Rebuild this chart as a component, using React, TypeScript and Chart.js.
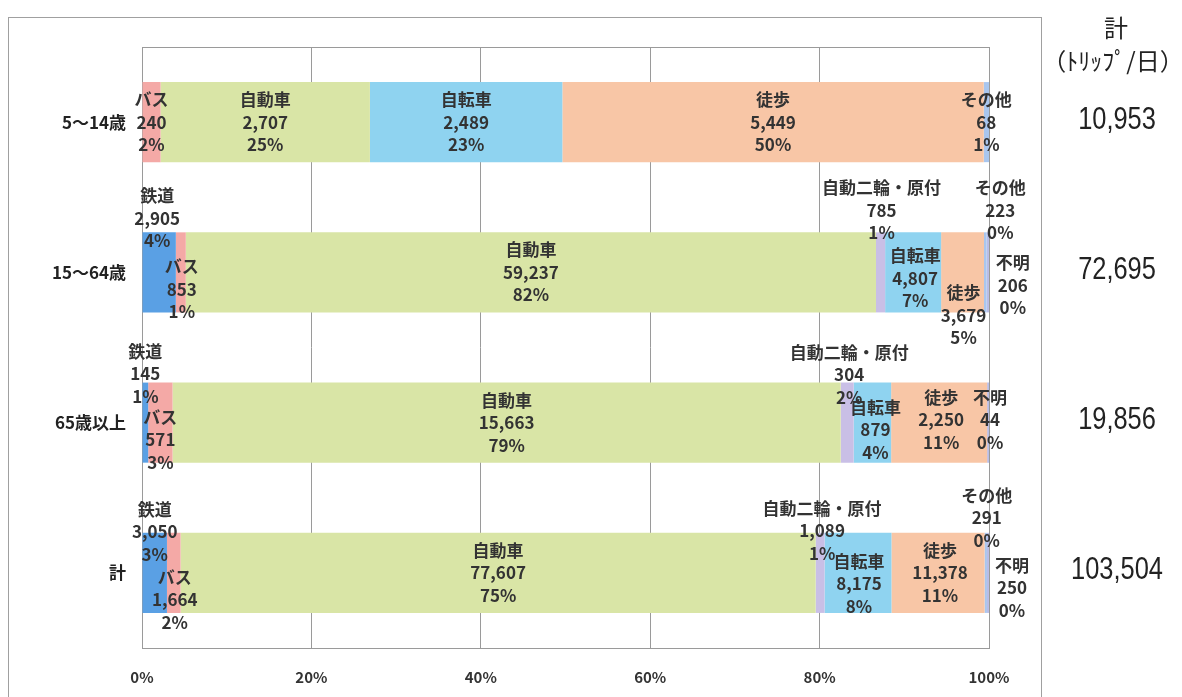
import React, { useEffect, useRef } from "react";
import { Chart, registerables } from "chart.js";

Chart.register(...registerables);

// ---- data ----
const categories = ["5～14歳", "15～64歳", "65歳以上", "計"];
const seriesNames = ["鉄道", "バス", "自動車", "自動二輪・原付", "自転車", "徒歩", "その他", "不明"];

const rail = [0, 2905, 145, 3050];
const bus = [240, 853, 571, 1664];
const car = [2707, 59237, 15663, 77607];
const moto = [0, 785, 304, 1089];
const bike = [2489, 4807, 879, 8175];
const walk = [5449, 3679, 2250, 11378];
const other = [68, 223, 0, 291];
const unknown = [0, 206, 44, 250];

const railPct = [0, 4, 1, 3];
const busPct = [2, 1, 3, 2];
const carPct = [25, 82, 79, 75];
const motoPct = [0, 1, 2, 1];
const bikePct = [23, 7, 4, 8];
const walkPct = [50, 5, 11, 11];
const otherPct = [1, 0, 0, 0];
const unknownPct = [0, 0, 0, 0];

const totals = [10953, 72695, 19856, 103504];
const totalHeader = ["計", "（ﾄﾘｯﾌﾟ/日）"];
const xTickStep = 20;

// ---- styles ----
const colors = ["#5aa0e4", "#f4a9a6", "#d9e5a6", "#c9bfe6", "#8fd3f0", "#f8c6a6", "#a9c6ee", "#b9bde6"];
// label offsets [dx, dy] from the segment centre, per category, per series
const labelOffsets: [number, number][][] = [
  [[0, 0], [0, 0], [0, 0], [0, 0], [0, 0], [0, 0], [0, 0], [0, 0]],
  [[-2, -54], [1, 17], [0, 0], [1, -62], [2, 6], [1, 43], [15, -62], [25, 13]],
  [[0, -49], [0, 17], [0, 0], [2, -48], [3, 7], [2, -3], [0, 0], [2, -3]],
  [[0, -41], [1, 27], [0, 0], [2, -42], [1, 11], [2, 0], [1, -55], [24, 15]],
];

const JP = '"Noto Sans CJK JP", "Noto Sans", sans-serif';

const seriesValues = [rail, bus, car, moto, bike, walk, other, unknown];
const seriesPct = [railPct, busPct, carPct, motoPct, bikePct, walkPct, otherPct, unknownPct];

const fmt = (n: number) => n.toLocaleString("en-US");

export default function App() {
  const ref = useRef<HTMLCanvasElement>(null);

  useEffect(() => {
    document.body.style.margin = "0";
    const rowSums = categories.map((_, r) => seriesValues.reduce((s, arr) => s + arr[r], 0));

    const datasets = seriesNames.map((name, i) => ({
      label: name,
      data: seriesValues[i].map((v, r) => (v / rowSums[r]) * 100),
      backgroundColor: colors[i],
      borderWidth: 0,
      barPercentage: 0.533,
      categoryPercentage: 1,
    }));

    const custom = {
      id: "custom",
      beforeDraw(chart: any) {
        const ctx = chart.ctx;
        ctx.save();
        ctx.fillStyle = "#ffffff";
        ctx.fillRect(0, 0, chart.width, chart.height);
        ctx.strokeStyle = "#a0a0a0";
        ctx.lineWidth = 1;
        ctx.strokeRect(8.5, 17.5, 1033, 700);
        ctx.restore();
      },
      beforeDatasetsDraw(chart: any) {
        const { ctx, chartArea: a } = chart;
        ctx.save();
        ctx.strokeStyle = "#9a9a9a";
        ctx.lineWidth = 1;
        ctx.strokeRect(Math.round(a.left) + 0.5, Math.round(a.top) + 0.5, Math.round(a.right - a.left), Math.round(a.bottom - a.top));
        ctx.restore();
      },
      afterDatasetsDraw(chart: any) {
        const ctx = chart.ctx;
        ctx.save();
        ctx.font = `bold 17px ${JP}`;
        ctx.fillStyle = "#333333";
        ctx.textAlign = "center";
        ctx.textBaseline = "middle";
        const lh = 22.5;
        seriesNames.forEach((name, i) => {
          const meta = chart.getDatasetMeta(i);
          meta.data.forEach((el: any, r: number) => {
            const v = seriesValues[i][r];
            if (!v) return;
            const [dx, dy] = labelOffsets[r][i];
            const cx = (el.x + el.base) / 2 + dx;
            const cy = el.y + dy;
            ctx.fillText(name, cx, cy - lh);
            ctx.fillText(fmt(v), cx, cy);
            ctx.fillText(seriesPct[i][r] + "%", cx, cy + lh);
          });
        });
        ctx.restore();
      },
      afterDraw(chart: any) {
        const ctx = chart.ctx;
        const y = chart.scales.y;
        ctx.save();
        ctx.fillStyle = "#222222";
        ctx.textAlign = "center";
        ctx.textBaseline = "middle";
        ctx.font = `24px ${JP}`;
        ctx.fillText(totalHeader[0], 1116, 28);
        ctx.fillText(totalHeader[1], 1113, 61);
        ctx.font = `31px "Liberation Sans", Arial, sans-serif`;
        totals.forEach((t, r) => {
          const cy = y.getPixelForValue(r) - 2;
          ctx.save();
          ctx.translate(1117, cy);
          ctx.scale(0.82, 1);
          ctx.fillText(fmt(t), 0, 0);
          ctx.restore();
        });
        ctx.restore();
      },
    };

    const chart = new Chart(ref.current!, {
      type: "bar",
      data: { labels: categories, datasets },
      plugins: [custom],
      options: {
        indexAxis: "y",
        responsive: false,
        maintainAspectRatio: false,
        animation: false,
        layout: { padding: { top: 47, right: 193, bottom: 0, left: 0 } },
        plugins: { legend: { display: false }, tooltip: { enabled: false } },
        scales: {
          x: {
            stacked: true,
            min: 0,
            max: 100,
            ticks: {
              stepSize: xTickStep,
              callback: (v: any) => v + "%",
              font: { family: JP, size: 15, weight: "bold" },
              color: "#333333",
              padding: 20,
            },
            grid: { color: "#9a9a9a", lineWidth: 1, drawTicks: false },
            border: { display: true, color: "#9a9a9a" },
            afterFit: (s: any) => {
              s.height = 49;
            },
          },
          y: {
            stacked: true,
            ticks: {
              font: { family: JP, size: 17, weight: "bold" },
              color: "#222222",
              padding: 16,
            },
            grid: { display: false, drawTicks: false },
            border: { display: true, color: "#9a9a9a" },
            afterFit: (s: any) => {
              s.width = 142;
            },
          },
        },
      },
    } as any);

    return () => chart.destroy();
  }, []);

  return <canvas ref={ref} width={1182} height={697} style={{ display: "block", width: 1182, height: 697 }} />;
}
